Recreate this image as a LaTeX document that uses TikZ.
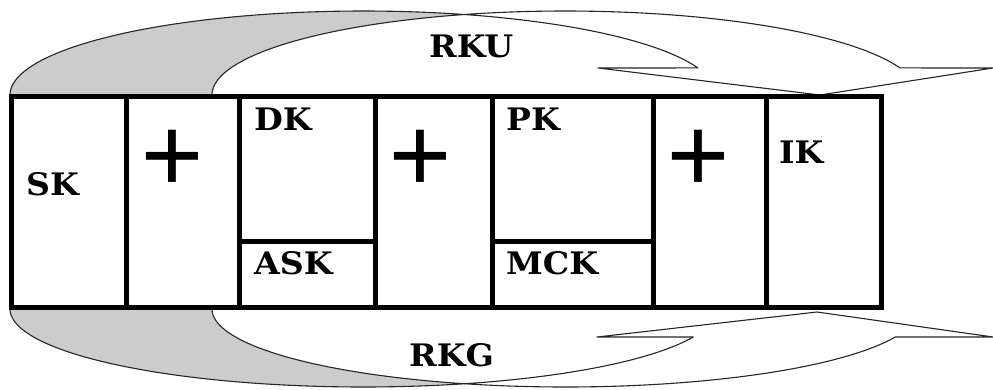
\documentclass[tikz,border=0pt]{standalone}
\usepackage{fontspec}
\usepackage{graphicx}
\newfontfamily\plusfont{Liberation Serif}
\newfontfamily\cellfont{DejaVu Serif}
\tikzset{
  lbl/.style   = {anchor=base west, inner sep=0pt,
                  font=\cellfont\bfseries\fontsize{31}{31}\selectfont},
  plussign/.style = {inner sep=0pt, font=\plusfont\bfseries\fontsize{112}{112}\selectfont},
  wall/.style  = {line width=5pt, line join=miter, line cap=rect},
  ribbon/.style= {line width=1.1pt, draw=black!85, line join=round},
  back/.style  = {ribbon, fill=black!20},
  front/.style = {ribbon, fill=white},
}
\newcommand{\wide}[1]{\scalebox{1.07}[1]{#1}}
\begin{document}
\begin{tikzpicture}[x=1pt, y=-1pt]
  \useasboundingbox (0,0) rectangle (993,389);

  % upper ribbon arrow (two equal ellipses shifted by the band width)
  \draw[back]
    plot[domain=180:73.4, samples=80] ({363.4+353.4*cos(\x)},{95-84*sin(\x)})
    -- plot[domain=106.6:180, samples=80] ({565.4+353.4*cos(\x)},{95-84*sin(\x)})
    -- cycle;
  \coordinate (tipU) at (820,95);
  \draw[front]
    plot[domain=106.6:18.8, samples=80] ({565.4+353.4*cos(\x)},{95-84*sin(\x)})
    -- (993,68) -- (tipU) -- (598,68)
    -- plot[domain=18.8:73.4, samples=80] ({363.4+353.4*cos(\x)},{95-84*sin(\x)})
    -- cycle;

  % lower ribbon arrow
  \draw[back]
    plot[domain=180:73.4, samples=80] ({363.4+353.4*cos(\x)},{309+78*sin(\x)})
    -- plot[domain=106.6:180, samples=80] ({565.4+353.4*cos(\x)},{309+78*sin(\x)})
    -- cycle;
  \coordinate (tipG) at (817,312);
  \draw[front]
    plot[domain=106.6:21, samples=80] ({565.4+353.4*cos(\x)},{309+78*sin(\x)})
    -- (993,337) -- (tipG) -- (597,337)
    -- plot[domain=21:73.4, samples=80] ({363.4+353.4*cos(\x)},{309+78*sin(\x)})
    -- cycle;

  % the block of cells
  \draw[wall, fill=white] (11,96.7) rectangle (881,307.5);
  \foreach \xx in {126.7,239,375,492,653.5,766}
    \draw[wall] (\xx,96.7) -- (\xx,307.5);
  \draw[wall] (239,241) -- (375,241);
  \draw[wall] (492,241) -- (653.5,241);

  % labels
  \node[lbl] (sk)  at (26,195) {\wide{SK}};
  \node[lbl] (dk)  at (254,130) {\wide{DK}};
  \node[lbl] (ask) at (254,274) {\wide{ASK}};
  \node[lbl] (pk)  at (506,130) {\wide{PK}};
  \node[lbl] (mck) at (506,274) {\wide{MCK}};
  \node[lbl] (ik)  at (779,163) {\wide{IK}};
  \node[lbl] (rku) at (429,57)  {\wide{RKU}};
  \node[lbl] (rkg) at (409,366) {\wide{RKG}};

  \node[plussign] (p1) at (172,161.5) {+};
  \node[plussign] (p2) at (420,161.5) {+};
  \node[plussign] (p3) at (698,161.5) {+};
\end{tikzpicture}
\end{document}
